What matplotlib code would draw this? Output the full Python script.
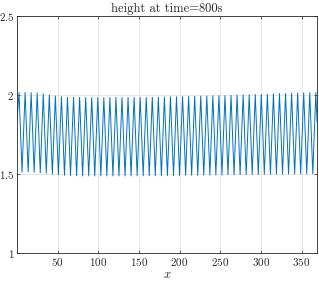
# ------------------------------------------------------
# IMPORTS
# ------------------------------------------------------

import numpy as np
import matplotlib
matplotlib.use('Agg')
import matplotlib.pyplot as plt
from matplotlib.ticker import FuncFormatter

# LaTeX-like look
plt.rcParams['mathtext.fontset'] = 'cm'
plt.rcParams['font.family'] = 'DejaVu Serif'

# ------------------------------------------------------
# INPUTS
# ------------------------------------------------------

# x positions of the wave crests
xPeak = [2.5, 9.95, 17.4, 24.85, 32.3, 39.75, 47.2, 54.65, 62.1, 69.55,
		 77.0, 84.45, 91.9, 99.35, 106.8, 114.25, 121.7, 129.15, 136.6, 144.05,
		 151.5, 158.95, 166.4, 173.85, 181.3, 188.75, 196.2, 203.65, 211.1, 218.55,
		 226.0, 233.45, 240.9, 248.35, 255.8, 263.25, 270.7, 278.15, 285.6, 293.05,
		 300.5, 307.95, 315.4, 322.85, 330.3, 337.75, 345.2, 352.65, 360.1, 367.55]

# crest heights
hPeak = [2.015, 2.016, 2.015, 2.013, 2.008, 2.000, 1.994, 1.989, 1.986, 1.985,
		 1.985, 1.985, 1.984, 1.984, 1.984, 1.984, 1.985, 1.985, 1.985, 1.985,
		 1.985, 1.985, 1.986, 1.986, 1.987, 1.988, 1.989, 1.990, 1.991, 1.992,
		 1.993, 1.994, 1.995, 1.996, 1.997, 1.998, 2.000, 2.001, 2.002, 2.004,
		 2.005, 2.006, 2.008, 2.009, 2.010, 2.012, 2.013, 2.014, 2.015, 2.015]

# x positions of the troughs
xTrough = [6.2, 13.7, 21.1, 28.6, 36.0, 43.5, 50.9, 58.4, 65.8, 73.3,
		   80.7, 88.2, 95.6, 103.1, 110.5, 118.0, 125.4, 132.9, 140.3, 147.8,
		   155.2, 162.7, 170.1, 177.6, 185.0, 192.5, 199.9, 207.4, 214.8, 222.3,
		   229.7, 237.2, 244.6, 252.1, 259.5, 267.0, 274.4, 281.9, 289.3, 296.8,
		   304.2, 311.7, 319.1, 326.6, 334.0, 341.5, 348.9, 356.4, 363.8]

# trough heights
hTrough = [1.512, 1.513, 1.511, 1.508, 1.504, 1.499, 1.495, 1.492, 1.490, 1.489,
		   1.488, 1.488, 1.488, 1.488, 1.488, 1.488, 1.488, 1.488, 1.488, 1.489,
		   1.489, 1.489, 1.489, 1.489, 1.490, 1.490, 1.491, 1.491, 1.492, 1.492,
		   1.493, 1.493, 1.494, 1.494, 1.495, 1.495, 1.496, 1.496, 1.497, 1.497,
		   1.498, 1.498, 1.499, 1.499, 1.500, 1.500, 1.501, 1.501, 1.502]

# end values of the profile
xEnds = [0.0, 369.0]
hEnds = [1.84, 1.83]

# ------------------------------------------------------
# COMPUTATIONS
# ------------------------------------------------------

# Merge crests and troughs into one profile
x = np.array([xEnds[0]] + xPeak + xTrough + [xEnds[1]])
h = np.array([hEnds[0]] + hPeak + hTrough + [hEnds[1]])
order = np.argsort(x)
x = x[order]
h = h[order]

# ------------------------------------------------------
# OUTPUTS
# ------------------------------------------------------

fig = plt.figure(figsize=(3.19, 2.82), dpi=100)
ax1 = fig.add_axes([17/319, 29/282, 300/319, 237/282])

# Plot the wave
ax1.plot(x, h, '-', color='#0072BD', linewidth=0.7)

# Limits and ticks
ax1.set_xlim(0, 369)
ax1.set_ylim(1, 2.5)
ax1.set_xticks([50, 100, 150, 200, 250, 300, 350])
ax1.set_yticks([1, 1.5, 2, 2.5])
fmt = FuncFormatter(lambda v, p: '$%g$' % v)
ax1.xaxis.set_major_formatter(fmt)
ax1.yaxis.set_major_formatter(fmt)
ax1.tick_params(direction='in', length=2.5, width=0.5, colors='#262626',
				labelsize=8, top=True, right=True, pad=2)

# Grid
ax1.grid(True, color='#e3e3e3', linewidth=0.6)
ax1.set_axisbelow(True)

for s in ax1.spines.values():
	s.set_color('#262626')
	s.set_linewidth(0.6)

# Labels
ax1.set_xlabel('$x$', fontsize=9, labelpad=0, color='#262626')
ax1.set_title('height at time=800s', family='cmr10', fontsize=9, pad=3, color='#262626')

fig.savefig('out.png', dpi=100)
